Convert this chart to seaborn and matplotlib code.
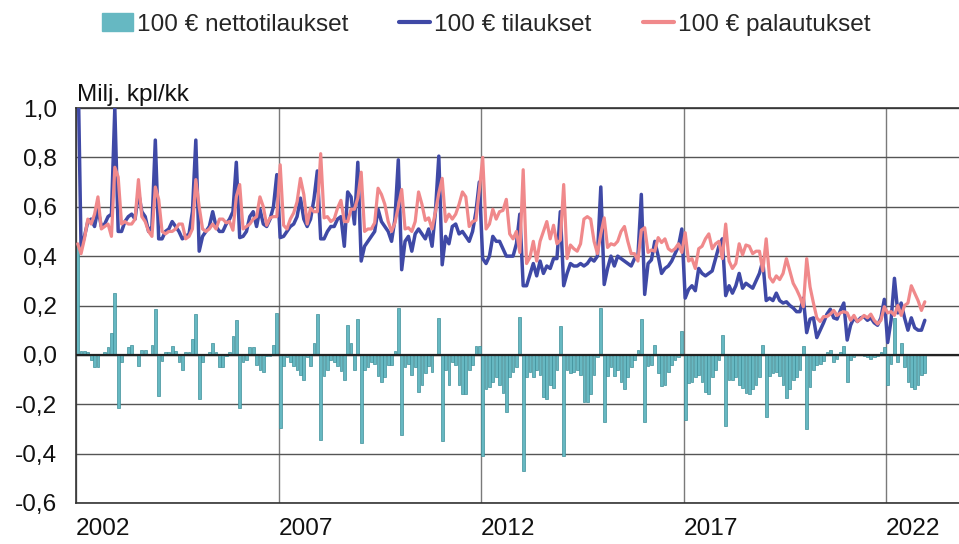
import numpy as np
import pandas as pd
import seaborn as sns
import matplotlib.pyplot as plt
from matplotlib.patches import Patch
from matplotlib.lines import Line2D

# monthly data, Jan 2002 - Dec 2022 (million pcs / month), one row per year
orders = [
    1.25, 0.43, 0.48, 0.54, 0.55, 0.52, 0.59, 0.52, 0.53, 0.56, 0.57, 1.00,   # 2002
    0.50, 0.50, 0.54, 0.56, 0.57, 0.55, 0.66, 0.58, 0.56, 0.50, 0.52, 0.87,   # 2003
    0.47, 0.47, 0.50, 0.51, 0.54, 0.52, 0.50, 0.47, 0.48, 0.49, 0.58, 0.87,   # 2004
    0.42, 0.48, 0.50, 0.52, 0.58, 0.52, 0.50, 0.50, 0.53, 0.55, 0.58, 0.78,   # 2005
    0.475, 0.48, 0.50, 0.56, 0.58, 0.52, 0.59, 0.53, 0.52, 0.55, 0.60, 0.73,  # 2006
    0.475, 0.48, 0.50, 0.52, 0.53, 0.56, 0.635, 0.55, 0.52, 0.55, 0.63, 0.745,  # 2007
    0.47, 0.47, 0.50, 0.52, 0.52, 0.55, 0.56, 0.44, 0.66, 0.64, 0.53, 0.78,   # 2008
    0.38, 0.44, 0.46, 0.48, 0.50, 0.59, 0.54, 0.52, 0.50, 0.46, 0.55, 0.79,   # 2009
    0.345, 0.46, 0.48, 0.42, 0.49, 0.51, 0.49, 0.47, 0.51, 0.44, 0.58, 0.805,  # 2010
    0.365, 0.48, 0.45, 0.52, 0.53, 0.49, 0.50, 0.48, 0.46, 0.50, 0.58, 0.70,  # 2011
    0.39, 0.37, 0.40, 0.48, 0.46, 0.46, 0.43, 0.40, 0.40, 0.40, 0.45, 0.57,   # 2012
    0.28, 0.28, 0.325, 0.37, 0.32, 0.38, 0.33, 0.36, 0.35, 0.39, 0.39, 0.58,  # 2013
    0.28, 0.33, 0.37, 0.36, 0.36, 0.37, 0.36, 0.37, 0.39, 0.38, 0.40, 0.68,   # 2014
    0.285, 0.35, 0.40, 0.36, 0.40, 0.39, 0.38, 0.37, 0.36, 0.39, 0.40, 0.65,  # 2015
    0.245, 0.37, 0.385, 0.46, 0.40, 0.33, 0.35, 0.36, 0.38, 0.41, 0.44, 0.51,  # 2016
    0.23, 0.265, 0.28, 0.26, 0.35, 0.33, 0.32, 0.33, 0.34, 0.39, 0.44, 0.47,  # 2017
    0.24, 0.28, 0.25, 0.28, 0.33, 0.27, 0.29, 0.28, 0.27, 0.30, 0.33, 0.38,   # 2018
    0.22, 0.23, 0.22, 0.25, 0.22, 0.21, 0.215, 0.20, 0.19, 0.175, 0.175, 0.23,  # 2019
    0.09, 0.145, 0.15, 0.07, 0.10, 0.13, 0.165, 0.185, 0.15, 0.145, 0.18, 0.21,  # 2020
    0.06, 0.12, 0.15, 0.135, 0.15, 0.155, 0.14, 0.15, 0.13, 0.12, 0.15, 0.225,  # 2021
    0.05, 0.14, 0.31, 0.17, 0.21, 0.15, 0.10, 0.15, 0.11, 0.10, 0.10, 0.14,   # 2022
]
returns = [
    0.45, 0.41, 0.47, 0.55, 0.53, 0.57, 0.64, 0.51, 0.52, 0.53, 0.48, 0.76,   # 2002
    0.72, 0.53, 0.54, 0.53, 0.53, 0.55, 0.71, 0.56, 0.54, 0.50, 0.48, 0.68,   # 2003
    0.63, 0.50, 0.49, 0.50, 0.50, 0.51, 0.53, 0.53, 0.47, 0.48, 0.51, 0.71,   # 2004
    0.60, 0.51, 0.50, 0.51, 0.53, 0.51, 0.55, 0.55, 0.535, 0.54, 0.505, 0.64,  # 2005
    0.69, 0.51, 0.52, 0.53, 0.55, 0.56, 0.64, 0.60, 0.525, 0.555, 0.56, 0.56,  # 2006
    0.77, 0.525, 0.51, 0.55, 0.575, 0.62, 0.715, 0.65, 0.53, 0.595, 0.58, 0.58,  # 2007
    0.815, 0.555, 0.56, 0.54, 0.55, 0.595, 0.626, 0.54, 0.54, 0.59, 0.59, 0.635,  # 2008
    0.74, 0.50, 0.51, 0.51, 0.535, 0.675, 0.65, 0.61, 0.54, 0.50, 0.535, 0.60,  # 2009
    0.67, 0.51, 0.515, 0.50, 0.54, 0.66, 0.61, 0.545, 0.555, 0.51, 0.58, 0.655,  # 2010
    0.715, 0.54, 0.57, 0.55, 0.57, 0.61, 0.66, 0.64, 0.52, 0.54, 0.545, 0.665,  # 2011
    0.80, 0.51, 0.53, 0.59, 0.55, 0.58, 0.585, 0.63, 0.49, 0.47, 0.50, 0.415,  # 2012
    0.75, 0.37, 0.395, 0.46, 0.38, 0.46, 0.50, 0.54, 0.47, 0.525, 0.45, 0.465,  # 2013
    0.69, 0.39, 0.445, 0.43, 0.42, 0.45, 0.55, 0.56, 0.55, 0.46, 0.41, 0.49,  # 2014
    0.555, 0.435, 0.45, 0.445, 0.46, 0.50, 0.52, 0.46, 0.41, 0.41, 0.38, 0.505,  # 2015
    0.515, 0.415, 0.425, 0.42, 0.475, 0.455, 0.47, 0.43, 0.42, 0.43, 0.45, 0.415,  # 2016
    0.495, 0.38, 0.39, 0.35, 0.43, 0.44, 0.47, 0.49, 0.43, 0.45, 0.46, 0.39,  # 2017
    0.53, 0.38, 0.35, 0.37, 0.45, 0.405, 0.445, 0.44, 0.41, 0.42, 0.42, 0.34,  # 2018
    0.47, 0.315, 0.295, 0.32, 0.305, 0.33, 0.39, 0.34, 0.29, 0.265, 0.235, 0.195,  # 2019
    0.39, 0.275, 0.21, 0.15, 0.135, 0.155, 0.155, 0.165, 0.18, 0.16, 0.17, 0.175,  # 2020
    0.17, 0.14, 0.16, 0.135, 0.145, 0.16, 0.15, 0.165, 0.14, 0.125, 0.14, 0.195,  # 2021
    0.17, 0.175, 0.16, 0.20, 0.16, 0.20, 0.21, 0.28, 0.25, 0.22, 0.18, 0.215,  # 2022
]
net_orders = [
    0.45, 0.015, 0.015, 0.01, -0.02, -0.05, -0.05, 0.0, 0.01, 0.03, 0.09, 0.25,  # 2002
    -0.215, -0.03, 0.0, 0.03, 0.04, 0.0, -0.045, 0.02, 0.02, 0.0, 0.04, 0.185,  # 2003
    -0.165, -0.025, 0.01, 0.01, 0.035, 0.015, -0.03, -0.06, 0.01, 0.01, 0.065, 0.165,  # 2004
    -0.18, -0.03, 0.0, 0.01, 0.05, 0.01, -0.05, -0.05, -0.005, 0.01, 0.075, 0.14,  # 2005
    -0.215, -0.03, -0.02, 0.03, 0.03, -0.04, -0.06, -0.07, -0.005, -0.005, 0.04, 0.17,  # 2006
    -0.295, -0.045, -0.01, -0.03, -0.045, -0.06, -0.08, -0.1, -0.01, -0.045, 0.05, 0.165,  # 2007
    -0.345, -0.085, -0.06, -0.02, -0.03, -0.045, -0.066, -0.1, 0.12, 0.05, -0.06, 0.145,  # 2008
    -0.355, -0.06, -0.05, -0.03, -0.035, -0.085, -0.11, -0.09, -0.04, -0.04, 0.015, 0.19,  # 2009
    -0.325, -0.05, -0.035, -0.08, -0.05, -0.15, -0.12, -0.075, -0.045, -0.07, 0.0, 0.15,  # 2010
    -0.35, -0.06, -0.12, -0.03, -0.04, -0.12, -0.16, -0.16, -0.06, -0.04, 0.035, 0.035,  # 2011
    -0.41, -0.14, -0.13, -0.11, -0.09, -0.12, -0.155, -0.23, -0.09, -0.07, -0.05, 0.155,  # 2012
    -0.47, -0.09, -0.07, -0.09, -0.06, -0.08, -0.17, -0.18, -0.12, -0.135, -0.06, 0.115,  # 2013
    -0.41, -0.06, -0.075, -0.07, -0.06, -0.08, -0.19, -0.19, -0.16, -0.08, -0.01, 0.19,  # 2014
    -0.27, -0.085, -0.05, -0.085, -0.06, -0.11, -0.14, -0.09, -0.05, -0.02, 0.02, 0.145,  # 2015
    -0.27, -0.045, -0.04, 0.04, -0.075, -0.125, -0.12, -0.07, -0.04, -0.02, -0.01, 0.095,  # 2016
    -0.265, -0.115, -0.11, -0.09, -0.08, -0.11, -0.15, -0.16, -0.09, -0.06, -0.02, 0.08,  # 2017
    -0.29, -0.10, -0.10, -0.09, -0.12, -0.135, -0.155, -0.16, -0.14, -0.12, -0.09, 0.04,  # 2018
    -0.25, -0.085, -0.075, -0.07, -0.085, -0.12, -0.175, -0.14, -0.10, -0.09, -0.06, 0.035,  # 2019
    -0.30, -0.13, -0.06, -0.04, -0.035, -0.025, 0.01, 0.02, -0.03, -0.015, 0.01, 0.035,  # 2020
    -0.11, -0.02, -0.01, 0.0, 0.005, -0.005, -0.01, -0.015, -0.01, -0.005, 0.01, 0.03,  # 2021
    -0.12, -0.035, 0.15, -0.03, 0.05, -0.05, -0.11, -0.13, -0.14, -0.12, -0.08, -0.075,  # 2022
]

start_year = 2002
year_labels = ["2002", "2007", "2012", "2017", "2022"]
y_ticks = [1.0, 0.8, 0.6, 0.4, 0.2, 0.0, -0.2, -0.4, -0.6]
y_tick_labels = ["1,0", "0,8", "0,6", "0,4", "0,2", "0,0", "-0,2", "-0,4", "-0,6"]
legend_labels = ["100 € nettotilaukset", "100 € tilaukset", "100 € palautukset"]
unit_label = "Milj. kpl/kk"

TEAL = "#66b8c2"
TEAL_EDGE = "#3f8f99"
BLUE = "#3f49a6"
PINK = "#f0898b"
FS = 17.6

df = pd.DataFrame({
    "month": np.arange(len(orders)),
    "orders": orders,
    "returns": returns,
    "net": net_orders,
})

sns.set_theme(style="white")
plt.rcParams["font.family"] = ["Liberation Sans", "DejaVu Sans"]

W, H = 959, 544
fig = plt.figure(figsize=(W / 100, H / 100), dpi=100)
ax = fig.add_axes([76 / W, 41 / H, 883 / W, 395 / H])

sns.barplot(data=df, x="month", y="net", native_scale=True, color=TEAL,
            saturation=1, edgecolor=TEAL_EDGE, linewidth=0.5, width=0.8,
            errorbar=None, ax=ax, zorder=2)
ax.axhline(0, color="#222222", lw=1.6, zorder=3)
sns.lineplot(data=df, x="month", y="orders", color=BLUE, linewidth=2.5,
             ax=ax, zorder=4)
sns.lineplot(data=df, x="month", y="returns", color=PINK, linewidth=2.3,
             ax=ax, zorder=5)

ax.set_xlim(-0.5, 883 / 3.375 - 0.5)
ax.set_ylim(-0.6, 1.0)
ax.set_xlabel("")
ax.set_ylabel("")

xt = [(int(y) - start_year) * 12 - 0.5 for y in year_labels]
ax.set_xticks(xt)
ax.set_xticklabels(year_labels, ha="left", fontsize=FS)
ax.set_yticks(y_ticks)
ax.set_yticklabels(y_tick_labels, fontsize=FS)
ax.tick_params(axis="x", length=0, pad=11, colors="#111111")
ax.tick_params(axis="y", length=0, pad=13.5, colors="#111111")

ax.set_axisbelow(True)
ax.yaxis.grid(True, color="#555555", lw=1.0)
ax.xaxis.grid(True, color="#7a7a7a", lw=1.0)
for side in ["left", "bottom", "top"]:
    ax.spines[side].set_color("#333333")
    ax.spines[side].set_linewidth(1.2)
ax.spines["right"].set_visible(False)

fig.text(77 / W, 1 - 101 / H, unit_label, ha="left", va="baseline",
         fontsize=FS, color="#111111")

handles = [
    Patch(facecolor=TEAL, edgecolor=TEAL),
    Line2D([0], [0], color=BLUE, lw=3),
    Line2D([0], [0], color=PINK, lw=3),
]
fig.legend(handles, legend_labels, loc="center", ncol=3,
           bbox_to_anchor=(486 / W, 1 - 24.5 / H), frameon=False,
           fontsize=FS, handlelength=1.27, handletextpad=0.16,
           columnspacing=2.1, borderpad=0, borderaxespad=0)

fig.savefig("out.png", dpi=100)
plt.close(fig)
